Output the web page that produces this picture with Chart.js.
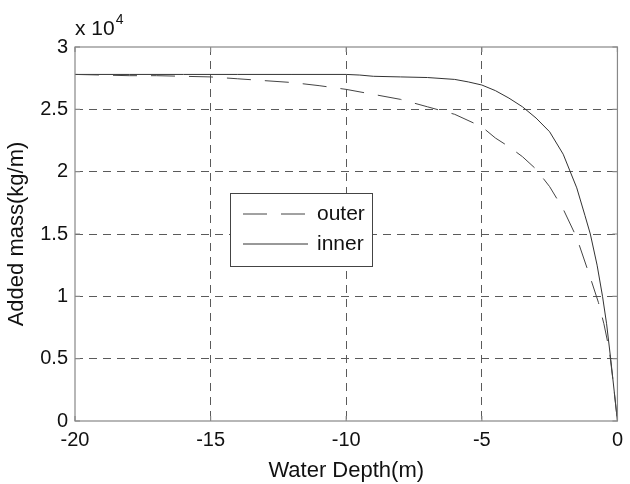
<!DOCTYPE html>
<html>
<head>
<meta charset="utf-8">
<script src="https://cdn.jsdelivr.net/npm/chart.js@4"></script>
<style>
  html, body { margin: 0; padding: 0; background: #fff; }
  #wrap { width: 630px; height: 484px; }
</style>
</head>
<body>
<div id="wrap"><canvas id="myChart" width="630" height="484"></canvas></div>
<script>
// water depth (m) and added mass (x 10^4 kg/m)
const depthInner = [-20, -18, -16, -14, -12, -10, -9.5, -9, -8, -7, -6, -5.5, -5, -4.5, -4, -3.5, -3, -2.5, -2, -1.5, -1.2, -1, -0.75, -0.55, -0.4, -0.25, -0.1, 0];
const massInner  = [2.78, 2.78, 2.78, 2.78, 2.78, 2.78, 2.775, 2.765, 2.76, 2.755, 2.74, 2.72, 2.695, 2.65, 2.59, 2.52, 2.43, 2.32, 2.14, 1.87, 1.65, 1.5, 1.25, 1.0, 0.78, 0.5, 0.2, 0];

const depthOuter = [-20, -19, -18, -17, -16, -15, -14, -13, -12, -11, -10, -9, -8, -7, -6, -5, -4.5, -4, -3.5, -3, -2.5, -2, -1.5, -1, -0.7, -0.5, -0.3, -0.15, 0];
const massOuter  = [2.78, 2.775, 2.77, 2.77, 2.765, 2.76, 2.745, 2.73, 2.715, 2.69, 2.66, 2.62, 2.58, 2.52, 2.46, 2.36, 2.27, 2.2, 2.12, 2.02, 1.88, 1.7, 1.47, 1.15, 0.95, 0.78, 0.57, 0.3, 0];

const xTicks = [-20, -15, -10, -5, 0];
const yTicks = [0, 0.5, 1, 1.5, 2, 2.5, 3];

const font = "'Liberation Sans', Arial, sans-serif";

function pts(xs, ys) {
    return xs.map((x, i) => ({x: x, y: ys[i]}));
}

function gridColor(c) {
    const n = c.scale.ticks.length;
    return (c.index === 0 || c.index === n - 1) ? 'rgba(0,0,0,0)' : '#5a5a5a';
}

// box around the axes with small inward ticks, the x 10^4 label and the legend
const boxPlugin = {
    id: 'box',
    afterDatasetsDraw(chart) {
        const ctx = chart.ctx;
        const a = chart.chartArea;
        const xs = chart.scales.x, ys = chart.scales.y;
        ctx.save();
        ctx.strokeStyle = '#888';
        ctx.lineWidth = 1.2;
        ctx.strokeRect(a.left, a.top, a.right - a.left, a.bottom - a.top);
        ctx.beginPath();
        xTicks.forEach(v => {
            const px = xs.getPixelForValue(v);
            ctx.moveTo(px, a.bottom); ctx.lineTo(px, a.bottom - 5);
            ctx.moveTo(px, a.top); ctx.lineTo(px, a.top + 5);
        });
        yTicks.forEach(v => {
            const py = ys.getPixelForValue(v);
            ctx.moveTo(a.left, py); ctx.lineTo(a.left + 5, py);
            ctx.moveTo(a.right, py); ctx.lineTo(a.right - 5, py);
        });
        ctx.stroke();

        ctx.fillStyle = '#111';
        ctx.textBaseline = 'alphabetic';
        ctx.font = '21px ' + font;
        ctx.fillText('x 10', a.left, 35);
        const w = ctx.measureText('x 10').width;
        ctx.font = '14px ' + font;
        ctx.fillText('4', a.left + w + 1, 24);

        // legend
        const lx = 230, ly = 193, lw = 142, lh = 73;
        ctx.fillStyle = '#fff';
        ctx.fillRect(lx, ly, lw, lh);
        ctx.strokeStyle = '#444';
        ctx.lineWidth = 1;
        ctx.strokeRect(lx + 0.5, ly + 0.5, lw, lh);
        chart.data.datasets.forEach((ds, i) => {
            const y = ly + 21 + i * 30;
            ctx.strokeStyle = ds.borderColor;
            ctx.lineWidth = ds.borderWidth;
            ctx.setLineDash(ds.borderDash || []);
            ctx.beginPath();
            ctx.moveTo(lx + 13, y); ctx.lineTo(lx + 78, y);
            ctx.stroke();
            ctx.setLineDash([]);
            ctx.fillStyle = '#111';
            ctx.font = '21px ' + font;
            ctx.textBaseline = 'middle';
            ctx.fillText(ds.label, lx + 87, y);
        });
        ctx.restore();
    }
};

const ctx = document.getElementById('myChart').getContext('2d');
const myChart = new Chart(ctx, {
    type: 'line',
    data: {
        datasets: [{
            label: 'outer',
            data: pts(depthOuter, massOuter),
            borderColor: '#444',
            borderWidth: 1,
            borderDash: [24, 14],
            pointRadius: 0,
            tension: 0
        }, {
            label: 'inner',
            data: pts(depthInner, massInner),
            borderColor: '#333',
            borderWidth: 1,
            pointRadius: 0,
            tension: 0
        }]
    },
    options: {
        responsive: false,
        animation: false,
        layout: {
            padding: {top: 47, right: 7, left: 0, bottom: 0}
        },
        plugins: {
            legend: {display: false},
            tooltip: {enabled: false}
        },
        scales: {
            x: {
                type: 'linear',
                min: -20,
                max: 0,
                afterBuildTicks: s => { s.ticks = xTicks.map(v => ({value: v})); },
                afterFit: s => { s.height = 63; },
                border: {display: false, dash: [8, 6]},
                grid: {color: gridColor, lineWidth: 1, drawTicks: false},
                ticks: {
                    color: '#111',
                    padding: 7,
                    maxRotation: 0,
                    font: {family: font, size: 20}
                },
                title: {
                    display: true,
                    text: 'Water Depth(m)',
                    color: '#111',
                    padding: {top: 2, bottom: 0},
                    font: {family: font, size: 22}
                }
            },
            y: {
                min: 0,
                max: 3,
                afterBuildTicks: s => { s.ticks = yTicks.map(v => ({value: v})); },
                afterFit: s => { s.width = 75; },
                border: {display: false, dash: [8, 6]},
                grid: {color: gridColor, lineWidth: 1, drawTicks: false},
                ticks: {
                    color: '#111',
                    padding: 7,
                    font: {family: font, size: 20},
                    callback: v => String(v)
                },
                title: {
                    display: true,
                    text: 'Added mass(kg/m)',
                    color: '#111',
                    padding: {top: 4, bottom: 0},
                    font: {family: font, size: 22}
                }
            }
        }
    },
    plugins: [boxPlugin]
});
</script>
</body>
</html>
